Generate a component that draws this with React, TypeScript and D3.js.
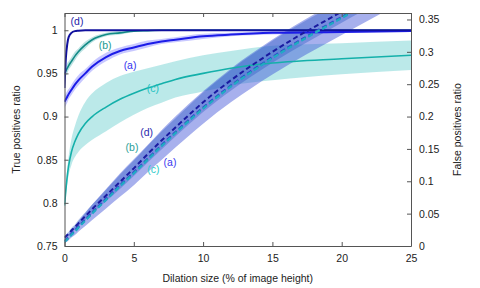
import React, { useEffect, useRef } from "react";
import * as d3 from "d3";

// dilation size (% of image height)
const xs = [0, 0.1, 0.2, 0.3, 0.5, 0.75, 1, 1.5, 2, 3, 4, 5, 6, 7, 8, 10, 12, 15, 20, 25];

// true positives ratio (left axis)
const tpA = [0.917, 0.92, 0.923, 0.926, 0.931, 0.937, 0.942, 0.95, 0.958, 0.969, 0.976, 0.98, 0.984, 0.987, 0.989, 0.993, 0.995, 0.997, 0.998, 0.999];
const tpB = [0.95, 0.953, 0.956, 0.959, 0.964, 0.97, 0.975, 0.983, 0.989, 0.995, 0.997, 0.999, 0.9995, 1, 1, 1, 1, 1, 1, 1];
const tpC = [0.797, 0.815, 0.831, 0.843, 0.859, 0.871, 0.88, 0.892, 0.9, 0.911, 0.92, 0.927, 0.933, 0.938, 0.943, 0.95, 0.956, 0.962, 0.967, 0.971];
const tpD = [0.933, 0.968, 0.984, 0.992, 0.997, 0.999, 0.9995, 1, 1, 1, 1, 1, 1, 1, 1, 1, 1, 1, 1, 1];

// spread around true positives
const tpAErr = [0.007, 0.007, 0.007, 0.006, 0.006, 0.006, 0.006, 0.005, 0.005, 0.005, 0.004, 0.004, 0.004, 0.003, 0.003, 0.003, 0.002, 0.002, 0.001, 0.001];
const tpBErr = [0.006, 0.006, 0.006, 0.005, 0.005, 0.005, 0.004, 0.004, 0.003, 0.002, 0.002, 0.001, 0.001, 0.0005, 0.0005, 0.0005, 0.0005, 0.0005, 0.0005, 0.0005];
const tpCErr = [0.003, 0.006, 0.009, 0.011, 0.015, 0.018, 0.021, 0.025, 0.027, 0.028, 0.027, 0.025, 0.023, 0.022, 0.021, 0.021, 0.02, 0.02, 0.018, 0.017];

// false positives ratio (right axis)
const fpA = [0.008, 0.01, 0.012, 0.014, 0.019, 0.024, 0.03, 0.041, 0.052, 0.073, 0.094, 0.114, 0.135, 0.156, 0.176, 0.214, 0.248, 0.292, 0.354, 0.412];
const fpB = [0.007, 0.009, 0.011, 0.013, 0.018, 0.023, 0.029, 0.04, 0.051, 0.072, 0.093, 0.113, 0.134, 0.155, 0.175, 0.213, 0.247, 0.291, 0.353, 0.411];
const fpC = [0.006, 0.008, 0.01, 0.012, 0.017, 0.022, 0.028, 0.039, 0.05, 0.071, 0.092, 0.112, 0.133, 0.154, 0.174, 0.212, 0.246, 0.29, 0.352, 0.41];
const fpD = [0.013, 0.015, 0.017, 0.019, 0.024, 0.029, 0.035, 0.046, 0.057, 0.078, 0.099, 0.12, 0.142, 0.163, 0.183, 0.222, 0.256, 0.3, 0.362, 0.42];

const fpOuterErr = [0.003, 0.004, 0.005, 0.005, 0.006, 0.007, 0.008, 0.01, 0.012, 0.015, 0.018, 0.02, 0.021, 0.023, 0.024, 0.025, 0.026, 0.027, 0.028, 0.028];
const fpInnerErr = [0.002, 0.002, 0.003, 0.003, 0.004, 0.004, 0.005, 0.006, 0.007, 0.009, 0.011, 0.012, 0.013, 0.014, 0.014, 0.015, 0.016, 0.017, 0.017, 0.017];

const xTicks = [0, 5, 10, 15, 20, 25];
const yTicks = [0.75, 0.8, 0.85, 0.9, 0.95, 1];
const y2Ticks = [0, 0.05, 0.1, 0.15, 0.2, 0.25, 0.3, 0.35];

// curve labels [text, x, y, colour]
const tpLabels: [string, number, number, string][] = [
  ["(d)", 0.9, 1.01, "#2222a8"],
  ["(b)", 2.93, 0.983, "#1a9a92"],
  ["(a)", 4.73, 0.9597, "#3333ee"],
  ["(c)", 6.38, 0.9331, "#22c2c2"],
];
const fpLabels: [string, number, number, string][] = [
  ["(d)", 5.93, 0.175, "#2a2aae"],
  ["(b)", 4.87, 0.1525, "#2a9e98"],
  ["(c)", 6.41, 0.119, "#2ccaca"],
  ["(a)", 7.61, 0.1293, "#3a3af0"],
];

const W = 480, H = 288;
const L = 64.5, R = 411, T = 13, B = 246;
const FONT = "'Liberation Sans', Arial, sans-serif";

export default function App() {
  const ref = useRef<SVGSVGElement>(null);

  useEffect(() => {
    const svg = d3.select(ref.current);
    svg.selectAll("*").remove();

    const x = d3.scaleLinear().domain([0, 25]).range([L, R]);
    const y = d3.scaleLinear().domain([0.75, 1.02]).range([B, T]);
    const y2 = d3.scaleLinear().domain([0, 0.36]).range([B, T]);

    svg.append("clipPath").attr("id", "plotclip")
      .append("rect").attr("x", L).attr("y", T).attr("width", R - L).attr("height", B - T);

    const plot = svg.append("g").attr("clip-path", "url(#plotclip)");

    const band = (sc: d3.ScaleLinear<number, number>, vals: number[], err: number[], fill: string, op: number) => {
      const area = d3.area<number>()
        .x((_, i) => x(xs[i]))
        .y0((d, i) => sc(d - err[i]))
        .y1((d, i) => sc(d + err[i]))
        .curve(d3.curveMonotoneX);
      plot.append("path").attr("d", area(vals)).attr("fill", fill).attr("fill-opacity", op);
    };

    const line = (sc: d3.ScaleLinear<number, number>, vals: number[], color: string, w: number, dash?: string) => {
      const gen = d3.line<number>()
        .x((_, i) => x(xs[i]))
        .y((d) => sc(d))
        .curve(d3.curveMonotoneX);
      const p = plot.append("path").attr("d", gen(vals)).attr("fill", "none")
        .attr("stroke", color).attr("stroke-width", w);
      if (dash) p.attr("stroke-dasharray", dash);
    };

    // bands
    band(y, tpC, tpCErr, "#5ccaca", 0.42);
    band(y, tpB, tpBErr, "#20a0a0", 0.3);
    band(y, tpA, tpAErr, "#6060ff", 0.35);
    band(y2, fpA, fpOuterErr, "#3b4fd8", 0.45);
    band(y2, fpD, fpInnerErr, "#2050c0", 0.35);

    // lines
    line(y, tpC, "#14b0aa", 1.6);
    line(y, tpB, "#128a86", 1.6);
    line(y, tpA, "#1c1ce8", 2);
    line(y, tpD, "#10109e", 2);
    line(y2, fpA, "#3030e0", 2, "5,3");
    line(y2, fpB, "#20a0a0", 2, "5,3");
    line(y2, fpC, "#20a8c8", 2, "5,3");
    line(y2, fpD, "#1a1aa0", 2, "5,3");

    // axes
    const axisStyle = (g: d3.Selection<SVGGElement, unknown, null, undefined>) => {
      g.select(".domain").attr("stroke", "#555");
      g.selectAll(".tick line").attr("stroke", "#555");
      g.selectAll("text").attr("fill", "#222").style("font-family", FONT).style("font-size", "10.5px");
    };

    svg.append("g").attr("transform", `translate(0,${B})`)
      .call(d3.axisBottom(x).tickValues(xTicks).tickSize(-4).tickSizeOuter(0).tickPadding(9).tickFormat((d) => String(d)))
      .call(axisStyle);
    svg.append("g").attr("transform", `translate(0,${T})`)
      .call(d3.axisTop(x).tickValues(xTicks).tickSize(-4).tickSizeOuter(0).tickFormat(() => ""))
      .call(axisStyle);
    svg.append("g").attr("transform", `translate(${L},0)`)
      .call(d3.axisLeft(y).tickValues(yTicks).tickSize(-4).tickSizeOuter(0).tickPadding(7).tickFormat((d) => String(d)))
      .call(axisStyle);
    svg.append("g").attr("transform", `translate(${R},0)`)
      .call(d3.axisRight(y2).tickValues(y2Ticks).tickSize(-4).tickSizeOuter(0).tickPadding(8).tickFormat((d) => String(d)))
      .call(axisStyle);

    // curve labels
    const lab = svg.append("g").style("font-family", FONT).style("font-size", "10.5px").attr("text-anchor", "middle");
    tpLabels.forEach(([t, lx, ly, c]) => {
      lab.append("text").attr("x", x(lx)).attr("y", y(ly)).attr("dy", "0.35em").attr("fill", c).text(t);
    });
    fpLabels.forEach(([t, lx, ly, c]) => {
      lab.append("text").attr("x", x(lx)).attr("y", y2(ly)).attr("dy", "0.35em").attr("fill", c).text(t);
    });

    // axis titles
    const titles = svg.append("g").style("font-family", FONT).style("font-size", "10.5px").attr("fill", "#222").attr("text-anchor", "middle");
    titles.append("text").attr("transform", `translate(20,${(T + B) / 2}) rotate(-90)`).text("True positives ratio");
    titles.append("text").attr("transform", `translate(460.5,${(T + B) / 2}) rotate(-90)`).text("False positives ratio");
    titles.append("text").attr("x", (L + R) / 2).attr("y", 282).text("Dilation size (% of image height)");
  }, []);

  return (
    <svg ref={ref} width={W} height={H} style={{ position: "absolute", left: 0, top: 0, background: "#fff" }} />
  );
}
